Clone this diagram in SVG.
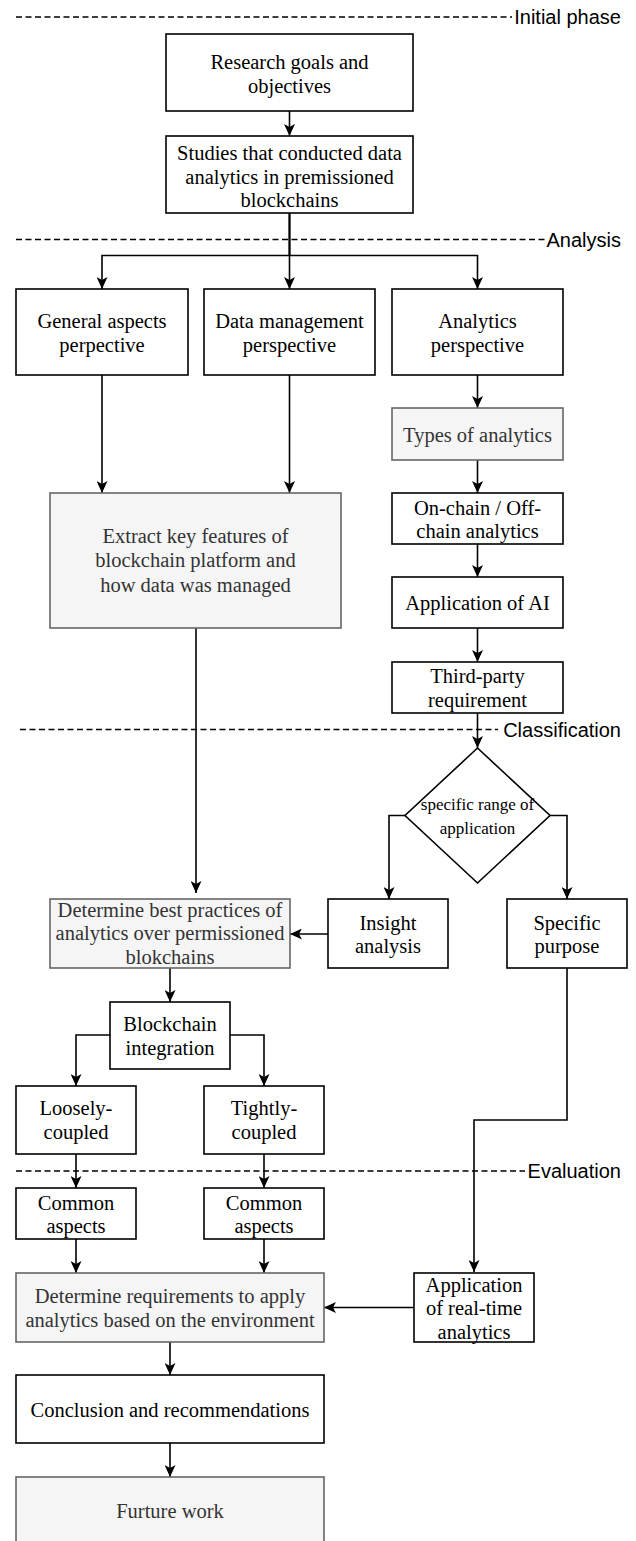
<svg xmlns="http://www.w3.org/2000/svg" width="636" height="1541" viewBox="0 0 636 1541">
<style>
.b{fill:#fff;stroke:#000;stroke-width:1.6}
.g{fill:#f5f5f5;stroke:#666;stroke-width:1.6}
.t{font-family:"Liberation Serif","Times New Roman",serif;font-size:20.5px;fill:#000;text-anchor:middle}
.tg{font-family:"Liberation Serif","Times New Roman",serif;font-size:20.5px;fill:#333;text-anchor:middle}
.ts{font-family:"Liberation Serif","Times New Roman",serif;font-size:17px;fill:#000;text-anchor:middle}
.lab{font-family:"Liberation Sans",Arial,sans-serif;font-size:20px;fill:#000;text-anchor:end}
.d{stroke:#000;stroke-width:1.5;stroke-dasharray:6 3.5;fill:none}
.c{stroke:#000;stroke-width:1.6;fill:none;marker-end:url(#arr)}
</style>
<defs>
<marker id="arr" viewBox="0 0 12 11" refX="12" refY="5.5" markerWidth="12" markerHeight="11" markerUnits="userSpaceOnUse" orient="auto"><path d="M0,0 L12,5.5 L0,11 L3,5.5 Z" fill="#000"/></marker>
</defs>
<rect width="636" height="1541" fill="#fff"/>
<g id="phases">
<line class="d" x1="16" y1="17" x2="512" y2="17"/><text class="lab" x="621" y="24">Initial phase</text>
<line class="d" x1="16" y1="239.5" x2="545" y2="239.5"/><text class="lab" x="621" y="246.5">Analysis</text>
<line class="d" x1="20" y1="729.5" x2="498" y2="729.5"/><text class="lab" x="621" y="736.5">Classification</text>
<line class="d" x1="16" y1="1171" x2="525" y2="1171"/><text class="lab" x="621" y="1178">Evaluation</text>
</g>
<g id="connectors">
<path class="c" d="M289.5 111 V136"/>
<path class="c" d="M289.5 213 V289"/>
<path class="c" d="M289.5 213 V255.5 H102 V289"/>
<path class="c" d="M289.5 213 V255.5 H477.5 V289"/>
<path class="c" d="M102 375 V493"/>
<path class="c" d="M289.5 375 V493"/>
<path class="c" d="M477.5 375 V408"/>
<path class="c" d="M477.5 460 V493"/>
<path class="c" d="M477.5 544 V577"/>
<path class="c" d="M477.5 628 V662"/>
<path class="c" d="M477.5 713 V748"/>
<path class="c" d="M405 815.5 H389 V899"/>
<path class="c" d="M550 815.5 H567 V899"/>
<path class="c" d="M328 934 H290"/>
<path class="c" d="M196 628 V893"/>
<path class="c" d="M567 968 V1120 H474 V1272"/>
<path class="c" d="M414 1307.5 H324"/>
<path class="c" d="M170 968 V1002"/>
<path class="c" d="M110 1035 H76 V1086"/>
<path class="c" d="M230 1035 H264 V1086"/>
<path class="c" d="M76 1154 V1188"/>
<path class="c" d="M264 1154 V1188"/>
<path class="c" d="M76 1239 V1273"/>
<path class="c" d="M264 1239 V1273"/>
<path class="c" d="M170 1342 V1375"/>
<path class="c" d="M170 1443 V1477"/>
</g>
<g id="n1"><rect class="b" x="166" y="34" width="247" height="77"/><text class="t" x="289.5" y="69">Research goals and</text><text class="t" x="289.5" y="93">objectives</text></g>
<g id="n2"><rect class="b" x="166" y="136" width="247" height="77"/><text class="t" x="289.5" y="160">Studies that conducted data</text><text class="t" x="289.5" y="183.5">analytics in premissioned</text><text class="t" x="289.5" y="207">blockchains</text></g>
<g id="n3"><rect class="b" x="16" y="289" width="172" height="86"/><text class="t" x="102" y="328">General aspects</text><text class="t" x="102" y="352">perpective</text></g>
<g id="n4"><rect class="b" x="204" y="289" width="171" height="86"/><text class="t" x="289.5" y="328">Data management</text><text class="t" x="289.5" y="352">perspective</text></g>
<g id="n5"><rect class="b" x="392" y="289" width="171" height="86"/><text class="t" x="477.5" y="328">Analytics</text><text class="t" x="477.5" y="352">perspective</text></g>
<g id="n6"><rect class="g" x="392" y="408" width="171" height="52"/><text class="tg" x="477.5" y="442">Types of analytics</text></g>
<g id="n7"><rect class="b" x="392" y="493" width="171" height="51"/><text class="t" x="477.5" y="515">On-chain / Off-</text><text class="t" x="477.5" y="538">chain analytics</text></g>
<g id="n8"><rect class="b" x="392" y="577" width="171" height="51"/><text class="t" x="477.5" y="610">Application of AI</text></g>
<g id="n9"><rect class="b" x="392" y="662" width="171" height="51"/><text class="t" x="477.5" y="683">Third-party</text><text class="t" x="477.5" y="707">requirement</text></g>
<g id="n10"><rect class="g" x="50" y="493" width="291" height="135"/><text class="tg" x="195.5" y="543">Extract key features of</text><text class="tg" x="195.5" y="567">blockchain platform and</text><text class="tg" x="195.5" y="591.5">how data was managed</text></g>
<g id="n11"><polygon class="b" points="477.5,748 550,815.5 477.5,883 405,815.5"/><text class="ts" x="477.5" y="810">specific range of</text><text class="ts" x="477.5" y="834">application</text></g>
<g id="n12"><rect class="g" x="50" y="899" width="240" height="69"/><text class="tg" x="170" y="916.5">Determine best practices of</text><text class="tg" x="170" y="940">analytics over permissioned</text><text class="tg" x="170" y="963.5">blokchains</text></g>
<g id="n13"><rect class="b" x="328" y="899" width="120" height="69"/><text class="t" x="388" y="930">Insight</text><text class="t" x="388" y="953">analysis</text></g>
<g id="n14"><rect class="b" x="507" y="899" width="120" height="69"/><text class="t" x="567" y="930">Specific</text><text class="t" x="567" y="953">purpose</text></g>
<g id="n15"><rect class="b" x="110" y="1002" width="120" height="67"/><text class="t" x="170" y="1030.5">Blockchain</text><text class="t" x="170" y="1055">integration</text></g>
<g id="n16"><rect class="b" x="16" y="1086" width="120" height="68"/><text class="t" x="76" y="1115">Loosely-</text><text class="t" x="76" y="1139">coupled</text></g>
<g id="n17"><rect class="b" x="204" y="1086" width="120" height="68"/><text class="t" x="264" y="1115">Tightly-</text><text class="t" x="264" y="1139">coupled</text></g>
<g id="n18"><rect class="b" x="16" y="1188" width="120" height="51"/><text class="t" x="76" y="1209.5">Common</text><text class="t" x="76" y="1233">aspects</text></g>
<g id="n19"><rect class="b" x="204" y="1188" width="120" height="51"/><text class="t" x="264" y="1209.5">Common</text><text class="t" x="264" y="1233">aspects</text></g>
<g id="n20"><rect class="b" x="414" y="1273" width="120" height="69"/><text class="t" x="474" y="1291.5">Application</text><text class="t" x="474" y="1315">of real-time</text><text class="t" x="474" y="1338.5">analytics</text></g>
<g id="n21"><rect class="g" x="16" y="1273" width="308" height="69"/><text class="tg" x="170" y="1303">Determine requirements to apply</text><text class="tg" x="170" y="1326.5">analytics based on the environment</text></g>
<g id="n22"><rect class="b" x="16" y="1375" width="308" height="68"/><text class="t" x="170" y="1417">Conclusion and recommendations</text></g>
<g id="n23"><rect class="g" x="16" y="1477" width="308" height="80"/><text class="tg" x="170" y="1518">Furture work</text></g>
</svg>
